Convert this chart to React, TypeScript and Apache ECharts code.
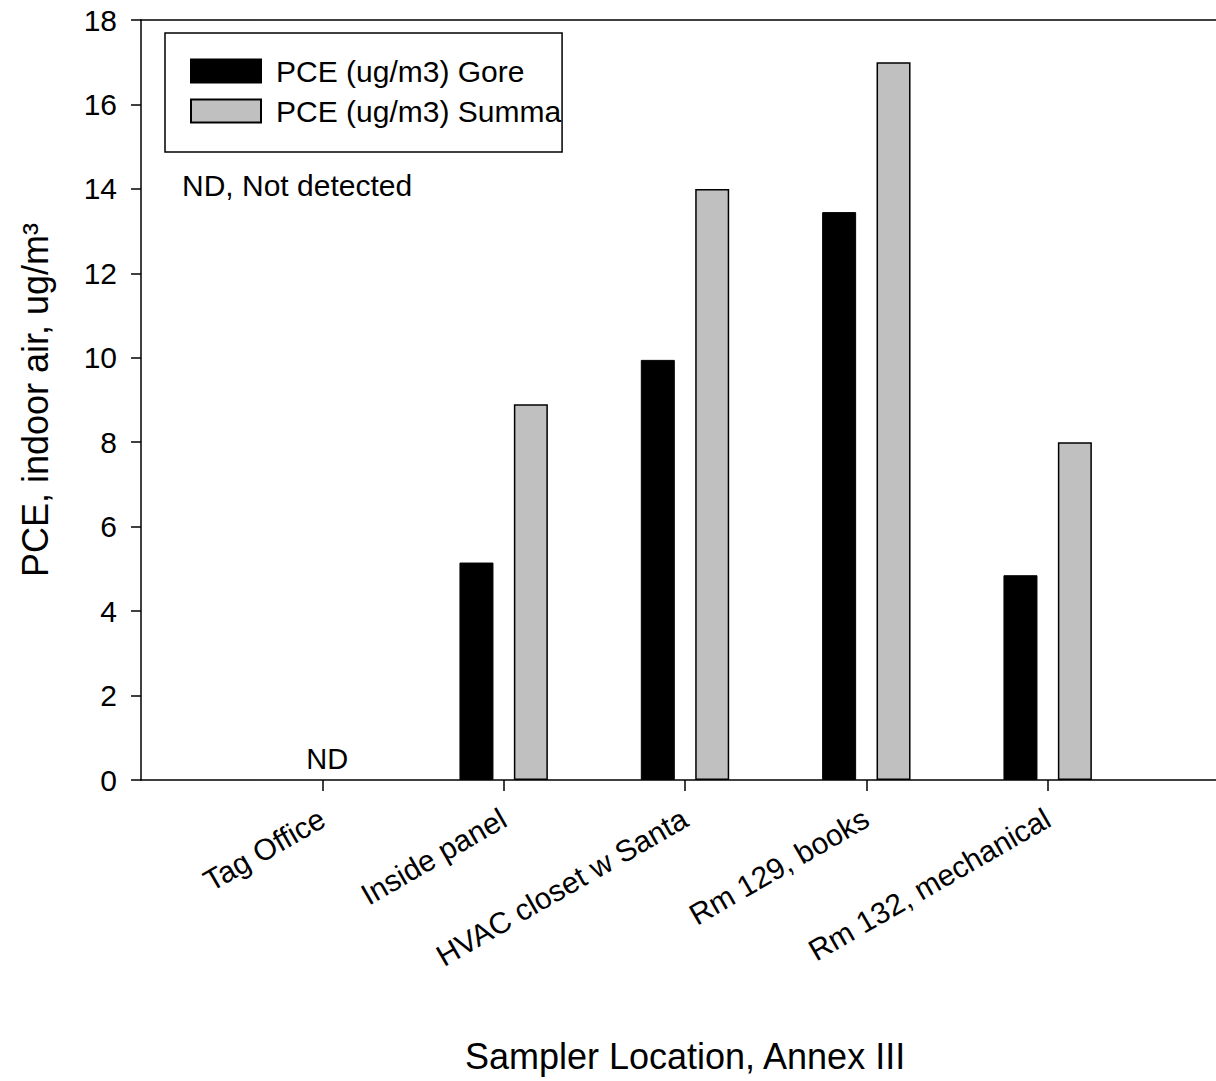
import React, { useEffect, useRef } from "react";
import * as echarts from "echarts";

const categories = ["Tag Office", "Inside panel", "HVAC closet w Santa", "Rm 129, books", "Rm 132, mechanical"];
const goreValues: (number | null)[] = [null, 5.15, 9.95, 13.45, 4.85];
const summaValues: (number | null)[] = [null, 8.9, 14.0, 17.0, 8.0];
const yMin = 0;
const yMax = 18;
const yInterval = 2;
const seriesNames = ["PCE (ug/m3) Gore", "PCE (ug/m3) Summa"];
const ndCategory = "Tag Office";

const FONT = "'Liberation Sans', Arial, sans-serif";

export default function App() {
  const ref = useRef<HTMLDivElement>(null);
  useEffect(() => {
    if (!ref.current) return;
    const chart = echarts.init(ref.current, undefined, { renderer: "svg" });
    const axisCats = ["", ...categories, ""];
    const pad = (arr: (number | null)[]) => [null, ...arr, null];
    chart.setOption({
      animation: false,
      backgroundColor: "#ffffff",
      textStyle: { fontFamily: FONT, color: "#000" },
      grid: { left: 141, top: 20, right: 11, bottom: 301, containLabel: false },
      legend: {
        orient: "vertical",
        left: 165,
        top: 33,
        padding: [23, 1, 26, 25],
        itemGap: 10,
        itemWidth: 70,
        itemHeight: 23,
        icon: "rect",
        borderColor: "#000",
        borderWidth: 1.5,
        backgroundColor: "#fff",
        textStyle: { fontFamily: FONT, fontSize: 30, color: "#000", padding: [0, 0, 0, 10] },
        data: seriesNames,
      },
      xAxis: [
        {
          type: "category",
          data: axisCats,
          boundaryGap: false,
          axisLine: { lineStyle: { color: "#000", width: 1.5 } },
          axisTick: {
            show: true,
            length: 11,
            interval: (i: number) => i > 0 && i < axisCats.length - 1,
            lineStyle: { color: "#000", width: 1.5 },
          },
          axisLabel: {
            interval: 0,
            rotate: 30,
            margin: 36,
            fontFamily: FONT,
            fontSize: 30,
            color: "#000",
          },
          splitLine: { show: false },
          name: "Sampler Location, Annex III",
          nameLocation: "middle",
          nameGap: 258,
          nameTextStyle: { fontFamily: FONT, fontSize: 36, color: "#000" },
        },
        {
          type: "category",
          data: axisCats,
          position: "top",
          boundaryGap: false,
          axisLine: { lineStyle: { color: "#000", width: 1.5 } },
          axisTick: { show: false },
          axisLabel: { show: false },
        },
      ],
      yAxis: {
        type: "value",
        min: yMin,
        max: yMax,
        interval: yInterval,
        axisLine: { show: true, lineStyle: { color: "#000", width: 1.5 } },
        axisTick: { show: true, length: 10, lineStyle: { color: "#000", width: 1.5 } },
        axisLabel: { margin: 24, fontFamily: FONT, fontSize: 30, color: "#000" },
        splitLine: { show: false },
        name: "PCE, indoor air, ug/m³",
        nameLocation: "middle",
        nameGap: 88,
        nameTextStyle: { fontFamily: FONT, fontSize: 36, color: "#000" },
      },
      series: [
        {
          name: seriesNames[0],
          type: "bar",
          data: pad(goreValues),
          barWidth: 34,
          barGap: "60%",
          itemStyle: { color: "#000", borderColor: "#000", borderWidth: 1 },
          markPoint: {
            symbol: "circle",
            symbolSize: 0,
            data: [{ coord: [ndCategory, 0], value: "ND" }],
            label: {
              show: true,
              position: "top",
              distance: 7,
              offset: [32, 0],
              formatter: "ND",
              fontFamily: FONT,
              fontSize: 29,
              color: "#000",
            },
          },
        },
        {
          name: seriesNames[1],
          type: "bar",
          data: pad(summaValues),
          barWidth: 34,
          itemStyle: { color: "#c0c0c0", borderColor: "#000", borderWidth: 1.5 },
        },
      ],
      graphic: [
        {
          type: "text",
          left: 182,
          top: 170,
          style: { text: "ND, Not detected", fontFamily: FONT, fontSize: 30, fill: "#000" },
        },
      ],
    });
    return () => chart.dispose();
  }, []);
  return (
    <div style={{ position: "fixed", left: 0, top: 0, width: 1216, height: 1081, overflow: "hidden", background: "#fff" }}>
      <div ref={ref} style={{ width: 1240, height: 1081 }} />
    </div>
  );
}
